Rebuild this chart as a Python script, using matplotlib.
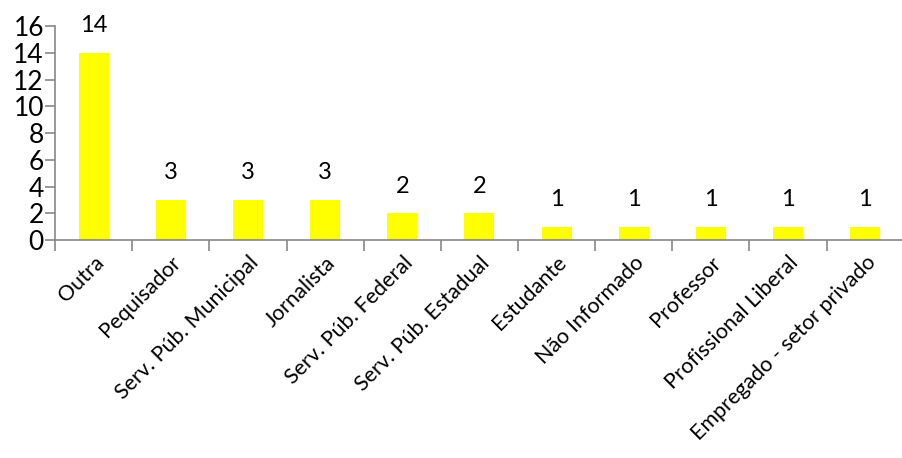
import numpy as np
import matplotlib.pyplot as plt

plt.rcParams['font.family'] = ['Lato', 'DejaVu Sans']

categorias = ['Outra', 'Pequisador', 'Serv. Púb. Municipal', 'Jornalista',
              'Serv. Púb. Federal', 'Serv. Púb. Estadual', 'Estudante',
              'Não Informado', 'Professor', 'Profissional Liberal',
              'Empregado - setor privado']
valores = [14, 3, 3, 3, 2, 2, 1, 1, 1, 1, 1]
yticks = [0, 2, 4, 6, 8, 10, 12, 14, 16]

fig = plt.figure(figsize=(9.02, 4.58), dpi=100)
ax = fig.add_axes([0.061, 0.476, 0.941, 0.467])

x = np.arange(len(categorias))
ax.bar(x, valores, width=0.39, color='#ffff00', zorder=2)

for xi, v in zip(x, valores):
    ax.annotate(str(v), (xi, v), xytext=(0, 12), textcoords='offset points',
                ha='center', va='bottom', fontsize=17)

ax.set_xlim(-0.5, len(categorias) - 0.5)
ax.set_ylim(0, 16)
ax.set_yticks(yticks)
ax.tick_params(axis='y', labelsize=19, length=7, width=1.2, color='#888888', pad=1)

ax.set_xticks(x)
ax.set_xticklabels(categorias, rotation=45, ha='right', rotation_mode='anchor', fontsize=15.5)
ax.tick_params(axis='x', length=0, pad=9)
ax.set_xticks(np.arange(len(categorias) + 1) - 0.5, minor=True)
ax.tick_params(axis='x', which='minor', length=8, width=1.2, color='#888888')

for s in ['top', 'right']:
    ax.spines[s].set_visible(False)
for s in ['left', 'bottom']:
    ax.spines[s].set_color('#888888')
    ax.spines[s].set_linewidth(1.2)

fig.savefig('out.png', dpi=100)
